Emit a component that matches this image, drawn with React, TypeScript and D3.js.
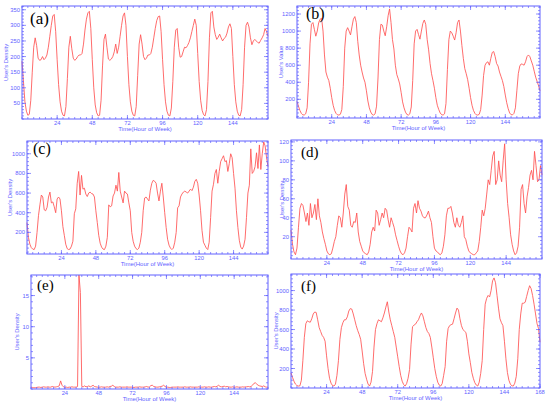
import React from "react"
import * as d3 from "d3"

// hourly values, hour 0..168, one row per day
const densityA = [
  185,120,55,25,12,15,60,150,230,260,235,195,188,190,200,190,195,205,230,265,300,330,335,280,
  190,110,55,25,12,10,40,130,230,265,225,195,188,192,200,205,205,210,240,285,320,340,345,290,
  190,100,45,20,10,12,60,170,255,272,230,192,188,192,200,215,240,210,230,265,300,330,340,300,
  200,110,55,25,12,10,40,140,240,270,240,200,190,195,205,205,210,230,260,290,315,328,330,280,
  190,110,55,25,12,10,35,120,230,285,290,230,198,200,215,230,228,235,245,260,280,300,320,300,
  210,120,60,28,14,10,30,120,260,340,345,295,270,255,262,272,260,250,258,262,275,295,305,290,
  200,110,55,25,12,10,30,110,230,300,310,295,260,238,250,255,250,245,243,252,260,270,290,280,
  265,
]

const valueB = [
  175,120,70,35,18,16,30,100,400,850,1080,1100,1020,940,1000,1100,1140,1150,1000,720,520,460,420,330,
  220,130,70,35,18,15,25,80,350,800,1000,1040,1000,955,1050,1140,1170,1100,880,720,600,520,450,400,
  300,180,100,50,22,15,30,120,450,900,1080,1070,1000,945,1050,1180,1260,1100,900,790,600,490,440,380,
  280,170,100,50,22,15,30,110,420,850,1000,1020,960,905,1000,1090,1130,1080,900,780,620,500,420,330,
  220,130,80,40,20,15,30,150,550,900,1000,980,940,895,980,1100,1130,1000,830,680,560,500,430,330,
  220,130,70,35,18,15,25,80,250,480,600,630,640,600,680,750,760,700,620,590,520,470,420,350,
  250,160,90,40,20,18,35,100,300,500,590,615,610,600,640,700,720,700,650,600,530,460,410,360,
  300,
]

const densityC = [
  300,150,80,45,30,25,60,200,370,480,580,560,430,420,455,560,610,500,510,460,400,540,560,540,
  420,260,170,80,35,25,30,60,110,390,440,700,820,580,780,640,650,590,565,600,610,595,590,560,
  420,300,170,90,50,30,25,60,150,480,460,470,570,600,680,620,810,620,560,500,620,600,590,500,
  420,200,110,60,35,25,40,100,200,420,550,560,540,520,630,700,730,720,700,600,520,620,700,560,
  400,250,130,70,40,25,40,100,200,450,470,560,590,610,620,610,600,620,640,625,660,720,740,700,
  580,420,220,100,70,40,25,100,350,620,690,800,840,700,820,920,950,980,920,930,820,900,1000,960,
  800,650,420,250,120,50,30,60,130,350,600,680,1050,800,820,870,1010,850,1090,840,1000,1120,1080,960,
  870,
]

const densityD = [
  27,12,4,1,8,30,50,55,53,45,36,45,32,55,40,45,54,38,60,42,35,25,18,12,
  5,2,1,2,8,15,20,32,42,40,30,45,65,75,52,48,32,30,36,35,45,25,15,10,
  5,3,2,1,4,12,25,30,26,48,45,32,38,45,40,50,48,38,30,40,35,30,22,16,
  10,5,2,1,3,8,20,30,28,25,50,55,45,58,50,47,42,40,40,43,47,40,35,20,
  8,5,4,2,1,3,10,22,42,50,50,52,45,35,30,40,32,30,35,42,20,17,10,5,
  3,2,1,1,3,5,15,30,48,42,50,65,80,75,90,105,110,75,80,100,85,78,100,118,
  80,55,40,22,12,5,1,3,10,30,70,75,55,45,62,72,85,90,80,110,95,78,80,95,
  85,
]

const densityE = [
  0.3,0.25,0.2,0.2,0.25,0.3,0.3,0.25,0.3,0.35,0.3,0.3,0.35,0.3,0.3,0.4,0.35,0.3,0.35,0.4,0.5,1.3,0.6,0.35,
  0.3,0.3,0.25,0.3,0.3,0.35,0.3,0.3,0.3,0.4,18.3,15.5,0.4,0.35,0.5,0.35,0.4,0.5,0.35,0.45,0.6,0.4,0.35,0.3,
  0.3,0.3,0.35,0.3,0.3,0.3,0.35,0.3,0.4,0.45,0.6,0.4,0.3,0.3,0.3,0.35,0.3,0.3,0.3,0.3,0.35,0.3,0.3,0.3,
  0.3,0.25,0.3,0.3,0.3,0.35,0.3,0.3,0.3,0.35,0.4,0.3,0.35,0.55,0.6,0.4,0.35,0.3,0.3,0.35,0.4,0.45,0.6,0.4,
  0.3,0.3,0.25,0.25,0.3,0.3,0.3,0.3,0.35,0.3,0.3,0.3,0.3,0.35,0.3,0.3,0.3,0.35,0.3,0.3,0.3,0.3,0.3,0.35,
  0.3,0.3,0.3,0.35,0.3,0.3,0.35,0.3,0.3,0.35,0.4,0.35,0.45,0.6,0.4,0.35,0.4,0.45,0.35,0.4,0.35,0.3,0.3,0.35,
  0.3,0.3,0.35,0.3,0.3,0.3,0.35,0.3,0.35,0.35,0.4,0.35,0.4,0.6,0.9,1.0,0.8,0.6,0.5,0.45,0.4,0.5,0.35,0.3,
  0.3,
]

const densityF = [
  155,110,70,40,25,20,22,80,280,520,660,690,680,675,710,760,780,775,700,620,580,540,520,480,
  330,200,100,50,25,20,40,130,280,500,620,670,700,700,730,790,815,810,760,700,640,590,550,500,
  380,250,150,90,40,20,60,170,420,600,660,700,690,680,720,770,830,885,780,700,640,580,520,420,
  320,220,130,70,35,20,45,100,190,450,630,645,655,680,700,740,770,740,680,620,580,560,520,420,
  310,200,120,60,30,20,45,130,220,480,610,640,650,655,710,770,820,800,710,640,600,585,570,480,
  350,260,160,100,55,30,20,60,150,280,600,860,920,950,935,1000,1100,1130,1080,950,820,710,670,640,
  480,300,160,80,40,22,20,50,120,300,600,760,870,870,880,940,1000,1050,1020,950,860,760,660,610,
  470,
]

const xTicks = [24, 48, 72, 96, 120, 144]
const xTicksF = [24, 48, 72, 96, 120, 144, 168]
const yTicksA = [50, 100, 150, 200, 250, 300, 350]
const yTicksB = [200, 400, 600, 800, 1000, 1200]
const yTicksC = [200, 400, 600, 800, 1000]
const yTicksD = [20, 40, 60, 80, 100, 120]
const yTicksE = [5, 10, 15]
const yTicksF = [200, 400, 600, 800, 1000]

const AXIS = "#6262ff"
const LINE = "#ff5252"

interface PanelCfg {
  label: string
  values: number[]
  left: number
  right: number
  top: number
  bottom: number
  yDomain: [number, number]
  yTicks: number[]
  xTicks: number[]
  yTitle: string
  yTitleX: number
  labelX: number
  labelY: number
  labelSize: number
}

const panels: PanelCfg[] = [
  { label: "(a)", values: densityA, left: 22, right: 268, top: 6, bottom: 119, yDomain: [0, 362],
    yTicks: yTicksA, xTicks, yTitle: "User's Density", yTitleX: 8, labelX: 30, labelY: 24, labelSize: 17 },
  { label: "(b)", values: valueB, left: 297, right: 540, top: 6, bottom: 118, yDomain: [-19, 1294],
    yTicks: yTicksB, xTicks, yTitle: "User's Value", yTitleX: 283, labelX: 306, labelY: 19, labelSize: 16 },
  { label: "(c)", values: densityC, left: 27, right: 268, top: 141, bottom: 254, yDomain: [-20, 1130],
    yTicks: yTicksC, xTicks, yTitle: "User's Density", yTitleX: 12, labelX: 33, labelY: 154, labelSize: 16 },
  { label: "(d)", values: densityD, left: 291, right: 542, top: 140, bottom: 259, yDomain: [-3.5, 122],
    yTicks: yTicksD, xTicks, yTitle: "User's Density", yTitleX: 284, labelX: 301, labelY: 157, labelSize: 15 },
  { label: "(e)", values: densityE, left: 31, right: 268, top: 275, bottom: 389, yDomain: [0, 18.3],
    yTicks: yTicksE, xTicks, yTitle: "User's Density", yTitleX: 19, labelX: 37, labelY: 290, labelSize: 15 },
  { label: "(f)", values: densityF, left: 291, right: 540, top: 274, bottom: 388, yDomain: [0, 1170],
    yTicks: yTicksF, xTicks: xTicksF, yTitle: "User's Density", yTitleX: 278, labelX: 301, labelY: 291, labelSize: 15 },
]

const Panel: React.FC<{ cfg: PanelCfg }> = ({ cfg }) => {
  const x = d3.scaleLinear().domain([0, 168]).range([cfg.left, cfg.right])
  const y = d3.scaleLinear().domain(cfg.yDomain).range([cfg.bottom, cfg.top])

  const line = d3.line<number>()
    .x((d, i) => x(i))
    .y(d => y(Math.min(d, cfg.yDomain[1])))

  // minor ticks every 4 hours / fifth of a y step
  const xMinor = d3.range(0, 169, 4)
  const ystep = cfg.yTicks[1] - cfg.yTicks[0]
  const yMinor = d3.range(Math.ceil(cfg.yDomain[0] / (ystep / 5)) * (ystep / 5), cfg.yDomain[1], ystep / 5)

  const midX = (cfg.left + cfg.right) / 2
  const midY = (cfg.top + cfg.bottom) / 2

  return (
    <g>
      <path d={line(cfg.values) || ""} fill="none" stroke={LINE} strokeWidth={0.85} strokeLinejoin="round" />
      <rect x={cfg.left} y={cfg.top} width={cfg.right - cfg.left} height={cfg.bottom - cfg.top}
        fill="none" stroke={AXIS} strokeWidth={1} />
      <g stroke={AXIS} strokeWidth={0.7}>
        {xMinor.map(t => (
          <g key={"xm" + t}>
            <line x1={x(t)} x2={x(t)} y1={cfg.bottom} y2={cfg.bottom - 2} />
            <line x1={x(t)} x2={x(t)} y1={cfg.top} y2={cfg.top + 2} />
          </g>
        ))}
        {cfg.xTicks.map(t => (
          <g key={"xM" + t}>
            <line x1={x(t)} x2={x(t)} y1={cfg.bottom} y2={cfg.bottom - 4} />
            <line x1={x(t)} x2={x(t)} y1={cfg.top} y2={cfg.top + 4} />
          </g>
        ))}
        {yMinor.map(t => (
          <g key={"ym" + t}>
            <line x1={cfg.left} x2={cfg.left + 2} y1={y(t)} y2={y(t)} />
            <line x1={cfg.right} x2={cfg.right - 2} y1={y(t)} y2={y(t)} />
          </g>
        ))}
        {cfg.yTicks.map(t => (
          <g key={"yM" + t}>
            <line x1={cfg.left} x2={cfg.left + 4} y1={y(t)} y2={y(t)} />
            <line x1={cfg.right} x2={cfg.right - 4} y1={y(t)} y2={y(t)} />
          </g>
        ))}
      </g>
      <g fill={AXIS} fontFamily="Liberation Sans, Arial, sans-serif" fontSize={5.8}>
        {cfg.xTicks.map(t => (
          <text key={"xl" + t} x={x(t)} y={cfg.bottom + 6} textAnchor="middle">{t}</text>
        ))}
        {cfg.yTicks.map(t => (
          <text key={"yl" + t} x={cfg.left - 2} y={y(t) + 2} textAnchor="end">{t}</text>
        ))}
        <text x={midX} y={cfg.bottom + 11.5} textAnchor="middle" fontSize={6}>Time(Hour of Week)</text>
        <text transform={`translate(${cfg.yTitleX},${midY}) rotate(-90)`} textAnchor="middle" fontSize={5.8}>
          {cfg.yTitle}
        </text>
      </g>
      <text x={cfg.labelX} y={cfg.labelY} fontFamily="Liberation Serif, Times New Roman, serif"
        fontSize={cfg.labelSize} fill="#000">{cfg.label}</text>
    </g>
  )
}

export default function App() {
  return (
    <svg width={550} height={404} style={{ position: "absolute", left: 0, top: 0, background: "#fff" }}>
      {panels.map(p => <Panel key={p.label} cfg={p} />)}
    </svg>
  )
}
